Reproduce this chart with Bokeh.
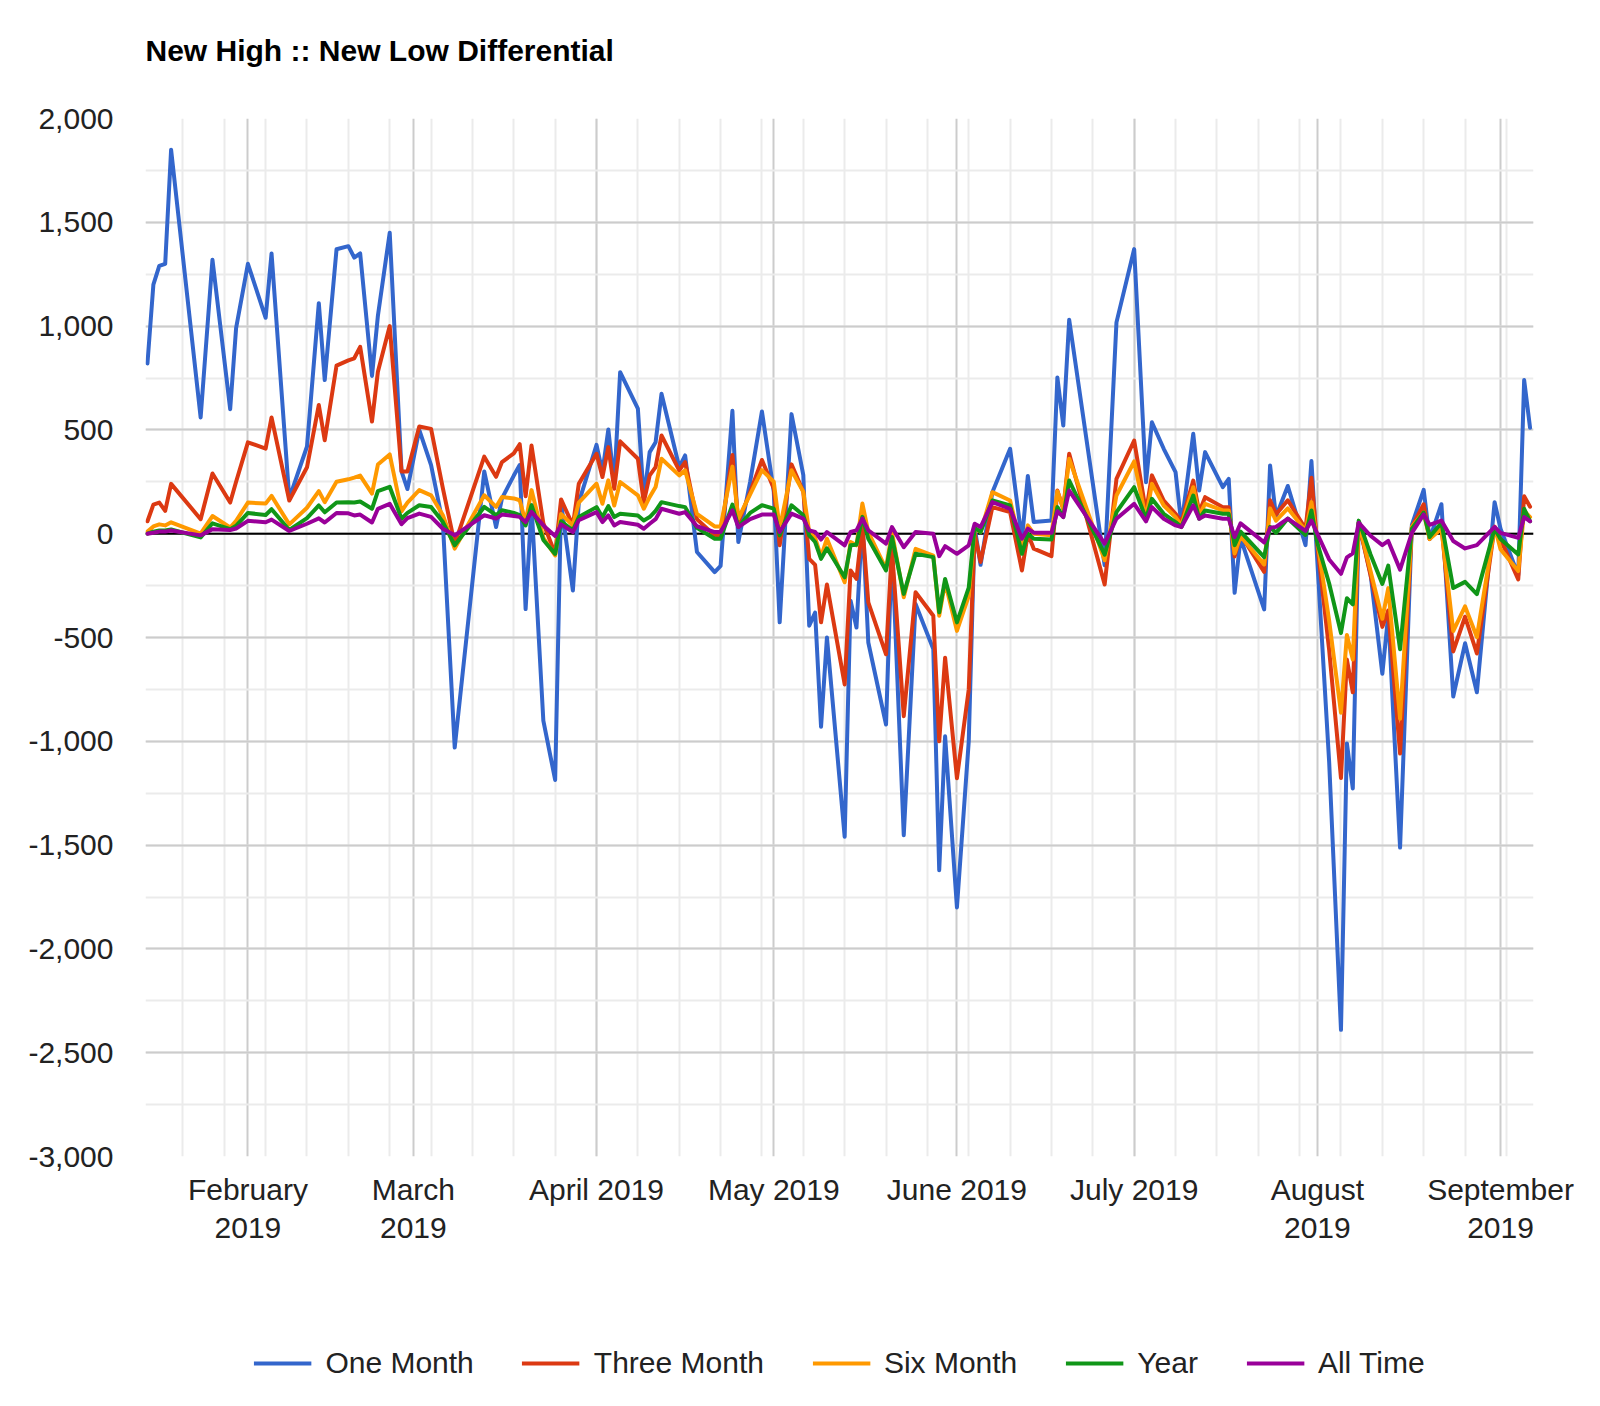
import pandas as pd
from datetime import datetime
from bokeh.plotting import figure
from bokeh.layouts import column
from bokeh.models import (FixedTicker, NumeralTickFormatter, Span, Legend, LegendItem,
                          Range1d, ColumnDataSource)
from bokeh.embed import file_html
from bokeh.resources import INLINE

# ---------------- data ----------------
dates = [
    "2019-01-15", "2019-01-16", "2019-01-17", "2019-01-18", "2019-01-19", "2019-01-24",
    "2019-01-26", "2019-01-29", "2019-01-30", "2019-02-01", "2019-02-04", "2019-02-05",
    "2019-02-08", "2019-02-11", "2019-02-13", "2019-02-14", "2019-02-16", "2019-02-18",
    "2019-02-19", "2019-02-20", "2019-02-22", "2019-02-23", "2019-02-25", "2019-02-27",
    "2019-02-28", "2019-03-02", "2019-03-04", "2019-03-06", "2019-03-08", "2019-03-13",
    "2019-03-15", "2019-03-16", "2019-03-18", "2019-03-19", "2019-03-20", "2019-03-21",
    "2019-03-23", "2019-03-25", "2019-03-26", "2019-03-28", "2019-03-29", "2019-04-01",
    "2019-04-02", "2019-04-03", "2019-04-04", "2019-04-05", "2019-04-08", "2019-04-09",
    "2019-04-10", "2019-04-11", "2019-04-12", "2019-04-15", "2019-04-16", "2019-04-18",
    "2019-04-21", "2019-04-22", "2019-04-24", "2019-04-25", "2019-04-27", "2019-04-29",
    "2019-05-01", "2019-05-02", "2019-05-04", "2019-05-06", "2019-05-07", "2019-05-08",
    "2019-05-09", "2019-05-10", "2019-05-13", "2019-05-14", "2019-05-15", "2019-05-16",
    "2019-05-17", "2019-05-20", "2019-05-21", "2019-05-23", "2019-05-25", "2019-05-28",
    "2019-05-29", "2019-05-30", "2019-06-01", "2019-06-03", "2019-06-04", "2019-06-05",
    "2019-06-07", "2019-06-10", "2019-06-12", "2019-06-13", "2019-06-14", "2019-06-17",
    "2019-06-18", "2019-06-19", "2019-06-20", "2019-06-26", "2019-06-28", "2019-07-01",
    "2019-07-03", "2019-07-04", "2019-07-06", "2019-07-08", "2019-07-09", "2019-07-11",
    "2019-07-12", "2019-07-13", "2019-07-16", "2019-07-17", "2019-07-18", "2019-07-19",
    "2019-07-23", "2019-07-24", "2019-07-25", "2019-07-27", "2019-07-30", "2019-07-31",
    "2019-08-01", "2019-08-03", "2019-08-05", "2019-08-06", "2019-08-07", "2019-08-08",
    "2019-08-10", "2019-08-12", "2019-08-13", "2019-08-15", "2019-08-17", "2019-08-19",
    "2019-08-20", "2019-08-22", "2019-08-24", "2019-08-26", "2019-08-28", "2019-08-31",
    "2019-09-01", "2019-09-04", "2019-09-05", "2019-09-06",
]

one_month = [
    820, 1200, 1290, 1300, 1850, 560,
    1320, 600, 990, 1300, 1040, 1350,
    170, 420, 1110, 740, 1370, 1385,
    1330, 1350, 760, 1050, 1450, 300,
    215, 500, 330, 50, -1030, 300,
    32, 170, 280, 331, -363, 137,
    -900, -1186, 150, -274, 150, 428,
    297, 502, 241, 778, 602, 168,
    393, 441, 674, 321, 377, -88,
    -185, -155, 592, -40, 250, 589,
    202, -427, 576, 282, -443, -380,
    -930, -500, -1460, -323, -452, 73,
    -524, -919, -56, -1452, -339, -556,
    -1621, -976, -1800, -1000, 30, -150,
    200, 409, -30, 278, 56, 64,
    753, 521, 1031, -152, 1018, 1371,
    248, 537, 409, 297, 40, 481,
    208, 393, 224, 264, -285, -20,
    -365, 329, 83, 230, -55, 350,
    -134, -1100, -2390, -1010, -1227, 53,
    -193, -675, -390, -1512, 43, 211,
    -26, 142, -784, -528, -764, 152,
    24, -200, 740, 510,
]

three_month = [
    60, 140, 150, 110, 240, 70,
    290, 150, 250, 440, 410, 560,
    160, 320, 620, 450, 810, 835,
    845, 900, 540, 780, 1000, 300,
    300, 516, 505, 218, -50, 371,
    274, 345, 387, 431, 180, 425,
    50, -97, 165, 40, 240, 385,
    273, 417, 217, 445, 361, 152,
    281, 321, 473, 305, 345, 70,
    -8, -8, 379, 56, 200, 355,
    218, -56, 334, 202, -121, -150,
    -427, -245, -726, -177, -218, 40,
    -331, -581, -73, -879, -282, -395,
    -1000, -597, -1178, -750, 0, -136,
    128, 104, -177, 0, -72, -108,
    208, 120, 385, -245, 264, 449,
    104, 281, 160, 96, 56, 256,
    104, 176, 128, 128, -110, -3,
    -184, 161, 93, 161, 24, 270,
    -55, -560, -1177, -606, -764, 53,
    -200, -449, -370, -1059, 33, 142,
    -26, 43, -567, -400, -577, 33,
    -26, -220, 180, 130,
]

six_month = [
    10, 35, 45, 40, 55, 0,
    85, 30, 62, 150, 145, 182,
    45, 125, 205, 152, 250, 262,
    270, 280, 193, 333, 382, 108,
    150, 210, 185, 89, -72, 185,
    129, 177, 170, 161, 56, 210,
    -20, -105, 95, 40, 150, 241,
    144, 257, 136, 249, 185, 120,
    177, 225, 361, 281, 305, 95,
    35, 35, 323, 73, 190, 306,
    250, 24, 306, 202, 8, -20,
    -110, -24, -234, -40, -56, 145,
    8, -169, 8, -306, -73, -105,
    -395, -234, -468, -300, 24, 8,
    200, 160, -81, 40, 0, -8,
    205, 120, 361, -128, 184, 348,
    72, 240, 136, 80, 40, 224,
    88, 144, 112, 112, -95, -12,
    -148, 122, 63, 122, 14, 152,
    -35, -420, -862, -488, -606, 53,
    -180, -410, -262, -892, 33, 102,
    -26, 24, -469, -350, -498, 33,
    -75, -180, 110, 80,
]

year = [
    0, 10, 15, 15, 20, -18,
    50, 22, 38, 100, 90, 118,
    18, 75, 136, 103, 150, 152,
    150, 155, 120, 205, 226, 72,
    100, 137, 129, 56, -56, 129,
    89, 113, 100, 89, 40, 137,
    -30, -97, 60, 16, 80, 128,
    80, 133, 80, 96, 88, 64,
    80, 110, 152, 133, 128, 28,
    -24, -24, 140, 32, 100, 137,
    121, -8, 137, 89, -8, -40,
    -121, -70, -210, -56, -53, 81,
    -24, -177, -16, -290, -97, -113,
    -379, -218, -427, -260, 30, 8,
    160, 136, -97, 0, -24, -28,
    128, 80, 256, -101, 104, 224,
    72, 168, 96, 56, 32, 184,
    72, 112, 96, 96, -55, 10,
    -113, 33, 4, 73, -6, 112,
    -45, -240, -478, -311, -340, 63,
    -100, -242, -154, -557, 24, 102,
    -16, 53, -262, -232, -291, 24,
    -26, -100, 120, 60,
]

all_time = [
    0, 5, 10, 10, 15, -8,
    22, 18, 25, 62, 55, 68,
    13, 48, 74, 54, 100, 98,
    88, 92, 54, 120, 144, 46,
    75, 97, 81, 24, -8, 89,
    73, 92, 85, 81, 56, 105,
    40, -11, 45, 8, 65, 104,
    56, 88, 40, 56, 43, 24,
    48, 70, 120, 96, 104, 36,
    8, 8, 113, 32, 70, 92,
    92, 8, 97, 73, 16, 8,
    -28, 8, -56, 8, 16, 73,
    16, -48, 32, -65, 8, 0,
    -108, -60, -97, -56, 48, 32,
    152, 120, -24, 24, 5, 4,
    108, 80, 208, -48, 72, 144,
    59, 128, 72, 40, 32, 136,
    72, 88, 72, 72, -16, 50,
    -42, 28, 33, 73, 14, 63,
    0, -124, -193, -114, -95, 53,
    -10, -55, -35, -173, 4, 93,
    43, 63, -35, -71, -55, 33,
    4, -20, 80, 60,
]

series_names = ["One Month", "Three Month", "Six Month", "Year", "All Time"]
series_colors = ["#3366cc", "#dc3912", "#ff9900", "#109618", "#990099"]

month_ticks = ["2019-02-01", "2019-03-01", "2019-04-01", "2019-05-01",
               "2019-06-01", "2019-07-01", "2019-08-01", "2019-09-01"]
month_labels = ["February\n2019", "March\n2019", "April 2019", "May 2019",
                "June 2019", "July 2019", "August\n2019", "September\n2019"]

y_ticks = list(range(-3000, 2001, 500))
y_minor = list(range(-3000, 2001, 250))

title_text = "New High :: New Low Differential"

# ---------------- build ----------------
FONT = "Liberation Sans"
W = 1590
BORDER_L, BORDER_R = 145, 57

src = ColumnDataSource(dict(
    date=pd.to_datetime(dates),
    one_month=one_month, three_month=three_month, six_month=six_month,
    year=year, all_time=all_time,
))
cols = ["one_month", "three_month", "six_month", "year", "all_time"]

def to_ms(s):
    return int(pd.Timestamp(s).value // 10**6)

month_ms = [to_ms(d) for d in month_ticks]
monday_ms = [to_ms(d) for d in pd.date_range("2019-01-21", "2019-09-02", freq="7D")]


def strip(height, top):
    f = figure(width=W, height=height, output_backend="svg", toolbar_location=None,
               x_axis_location=None, y_axis_location=None,
               x_range=Range1d(0, 1), y_range=Range1d(0, 1),
               min_border_left=BORDER_L, min_border_right=BORDER_R,
               min_border_top=top, min_border_bottom=0)
    f.grid.visible = False
    f.outline_line_color = None
    f.background_fill_color = "white"
    f.border_fill_color = "white"
    return f


# ---------------- title strip ----------------
tf = strip(80, 70)
tf.title.text = title_text
tf.title.text_font = FONT
tf.title.text_font_size = "30px"
tf.title.text_font_style = "bold"
tf.title.text_color = "#000000"
tf.title.align = "left"
tf.title.standoff = 7

# ---------------- main chart ----------------
p = figure(width=W, height=1180, x_axis_type="datetime",
           output_backend="svg", toolbar_location=None,
           x_range=Range1d(datetime(2019, 1, 14, 16), datetime(2019, 9, 6, 14)),
           y_range=Range1d(-3000, 2000),
           min_border_left=BORDER_L, min_border_right=BORDER_R,
           min_border_top=38, min_border_bottom=104)

p.outline_line_color = None
p.background_fill_color = "white"
p.border_fill_color = "white"

xt = FixedTicker(ticks=month_ms, minor_ticks=monday_ms)
yt = FixedTicker(ticks=y_ticks, minor_ticks=y_minor)
p.xaxis.ticker = xt
p.yaxis.ticker = yt
p.xgrid.ticker = xt
p.ygrid.ticker = yt
p.xaxis.major_label_overrides = {ms: lab for ms, lab in zip(month_ms, month_labels)}
p.yaxis.formatter = NumeralTickFormatter(format="0,0")

for ax in (p.xaxis, p.yaxis):
    ax.axis_line_color = None
    ax.major_tick_line_color = None
    ax.minor_tick_line_color = None
    ax.major_tick_out = 0
    ax.minor_tick_out = 0
    ax.major_label_text_font = FONT
    ax.major_label_text_font_size = "30px"
    ax.major_label_text_color = "#222222"
p.yaxis.major_label_standoff = 32
p.xaxis.major_label_standoff = 16
p.xaxis.major_label_text_line_height = 1.17

for g in (p.xgrid, p.ygrid):
    g.grid_line_color = "#cccccc"
    g.grid_line_width = 2
    g.minor_grid_line_color = "#ebebeb"
    g.minor_grid_line_width = 2

p.add_layout(Span(location=0, dimension="width", line_color="black",
                  line_width=2, level="underlay"))

for col, color in zip(cols, series_colors):
    p.line(x="date", y=col, source=src, line_color=color, line_width=4,
           line_join="round", line_cap="round")

# ---------------- legend strip below the chart ----------------
# the series are re-drawn here far outside this strip's (empty) frame,
# so only their legend samples are visible
lf = strip(140, 66)
leg_renderers = [lf.line(x="date", y=col, source=src, line_color=c, line_width=4)
                 for col, c in zip(cols, series_colors)]
legend = Legend(
    items=[LegendItem(label=n, renderers=[r]) for n, r in zip(series_names, leg_renderers)],
    orientation="horizontal", location="center",
    label_text_font=FONT, label_text_font_size="30px", label_text_color="#222222",
    glyph_width=58, glyph_height=20, label_standoff=14, spacing=48,
    padding=0, margin=0, border_line_color=None, background_fill_alpha=0,
)
lf.add_layout(legend)

layout = column(tf, p, lf, spacing=0)

open("out.html", "w").write(file_html(layout, INLINE))
